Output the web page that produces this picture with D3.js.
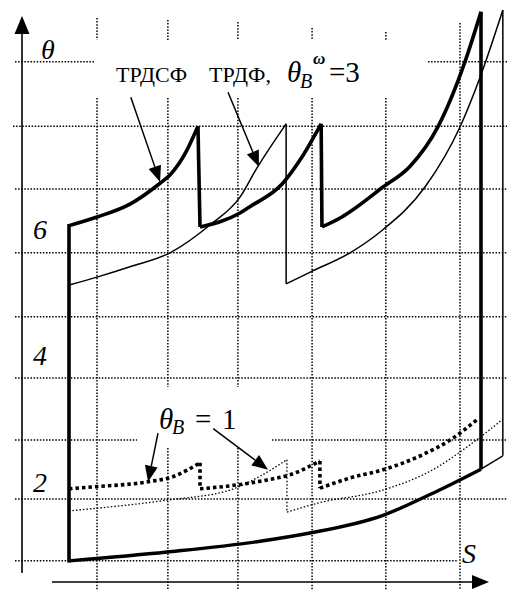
<!DOCTYPE html>
<html><head><meta charset="utf-8">
<script src="https://cdn.jsdelivr.net/npm/d3@7"></script>
<style>html,body{margin:0;padding:0;background:#fff;}svg{display:block;}</style>
</head><body>
<svg id="c" width="513" height="590" font-family="Liberation Serif, serif"></svg>
<script>
// ---------- DATA (S, theta) ----------
// theta_B^w = 3, ТРДСФ (thick solid), upper boundary
const trdsfTopS  = [0, 0.70, 1.48, 2.21, 2.45, 2.86, 3.13, 3.18, 4.15, 4.39, 5.19, 5.61, 6.12, 6.14, 6.58, 6.82, 7.62, 8.28, 8.96, 9.61, 10.0];
const trdsfTopT  = [6.05, 6.19, 6.39, 6.72, 6.85, 7.24, 7.62, 6.03, 6.25, 6.35, 6.72, 7.09, 7.66, 6.03, 6.17, 6.27, 6.66, 6.99, 7.62, 8.64, 9.43];
// common lower boundary (thick solid)
const bottomS    = [0, 2.38, 4.64, 5.85, 7.62, 8.83, 10.0];
const bottomT    = [0.75, 0.89, 1.06, 1.19, 1.47, 1.82, 2.20];
// theta_B^w = 3, ТРДФ (thin solid)
const trdfTopS   = [0, 0.70, 1.48, 2.45, 3.42, 4.15, 4.56, 5.27, 5.27, 5.87, 6.82, 7.55, 8.64, 9.49, 9.98, 10.53, 10.53, 10.0];
const trdfTopT   = [5.11, 5.24, 5.40, 5.62, 6.06, 6.50, 6.96, 7.66, 5.13, 5.32, 5.62, 5.95, 6.66, 7.61, 8.40, 9.46, 2.41, 2.20];
// theta_B = 1, ТРДСФ (thick dotted)
const trdsfB1S   = [0, 0.58, 1.92, 2.52, 3.18, 3.18, 3.83, 4.81, 5.36, 6.09, 6.09, 6.82, 7.62, 8.59, 9.25, 9.90];
const trdsfB1T   = [1.89, 1.92, 2.00, 2.08, 2.30, 1.89, 1.93, 2.03, 2.11, 2.33, 1.90, 2.06, 2.19, 2.43, 2.66, 2.98];
// theta_B = 1, ТРДФ (thin dotted)
const trdfB1S    = [0, 2.38, 3.91, 4.64, 5.29, 5.29, 6.02, 7.62, 8.83, 9.66, 10.53];
const trdfB1T    = [1.54, 1.71, 1.87, 2.09, 2.35, 1.52, 1.66, 1.87, 2.19, 2.55, 2.99];

// grid positions
const gridS = [0.68, 2.40, 4.10, 5.90, 7.69, 9.49];
const gridT = [8.64, 7.62, 6.63, 5.62, 4.61, 3.64, 2.66, 1.73, 0.75];
// tick labels
const tickVals   = [2, 4, 6];
const tickLabels = ["2", "4", "6"];
// annotation arrows [fromS, fromT, toS, toT]
const arrowFromS = [1.50, 3.86, 2.16, 3.50];
const arrowFromT = [8.08, 8.16, 2.77, 2.84];
const arrowToS   = [2.21, 4.61, 1.92, 4.83];
const arrowToT   = [6.74, 6.98, 2.00, 2.19];

// ---------- LAYOUT ----------
const FONT = "Liberation Serif, serif";
const svg = d3.select("#c");
const x = d3.scaleLinear().domain([0, 10]).range([69, 481]);
const y = d3.scaleLinear().domain([0, 8]).range([608.3, 102.3]);

// grid spans in pixels (gaps around labels)
const vSpans = [[[18,40],[98,590]], [[20,40],[98,387],[448,590]], [[22,40],[98,387],[448,590]],
                [[28,40],[98,590]], [[32,40],[98,590]], [[23,590]]];
const hSpans = [[[15,95],[428,507]], [[13,507]], [[15,507]], [[15,507]], [[15,507]], [[15,507]],
                [[15,137],[272,507]], [[15,507]], [[15,458]]];
const gridG = svg.append("g").attr("stroke","#000").attr("stroke-width",1.5).attr("stroke-dasharray","1.5,1.6").attr("fill","none");
gridS.forEach((s,i)=>vSpans[i].forEach(sp=>gridG.append("line").attr("x1",x(s)).attr("x2",x(s)).attr("y1",sp[0]).attr("y2",sp[1])));
gridT.forEach((t,i)=>hSpans[i].forEach(sp=>gridG.append("line").attr("y1",y(t)).attr("y2",y(t)).attr("x1",sp[0]).attr("x2",sp[1])));

// axes
const ax = svg.append("g");
ax.append("line").attr("x1",22).attr("x2",22).attr("y1",573).attr("y2",30).attr("stroke","#000").attr("stroke-width",1.6);
ax.append("path").attr("d","M22,16 L14.5,34 L29.5,34 Z").attr("fill","#000");
ax.append("line").attr("x1",52).attr("x2",475).attr("y1",582).attr("y2",582).attr("stroke","#000").attr("stroke-width",1.6);
ax.append("path").attr("d","M489,582 L472,575 L472,589 Z").attr("fill","#000");

// series drawing: rising parts smooth, drops straight
function drawSeries(Ss, Ts, style){
  const pts = Ss.map((s,i)=>[s,Ts[i]]);
  const smooth = [], straight = [];
  let cur = [pts[0]];
  for(let i=1;i<pts.length;i++){
    const p = pts[i], q = pts[i-1];
    if (p[0] <= q[0] || p[1] < q[1]) { if(cur.length>1) smooth.push(cur); straight.push([q,p]); cur=[p]; }
    else cur.push(p);
  }
  if(cur.length>1) smooth.push(cur);
  const ls = d3.line().x(d=>x(d[0])).y(d=>y(d[1])).curve(d3.curveMonotoneX);
  const ll = d3.line().x(d=>x(d[0])).y(d=>y(d[1]));
  const g = svg.append("g").attr("fill","none").attr("stroke","#000").attr("stroke-width",style.w)
     .attr("stroke-linejoin","miter").attr("stroke-linecap","butt");
  if(style.dash) g.attr("stroke-dasharray",style.dash);
  smooth.forEach(seg=>g.append("path").attr("d",ls(seg)));
  straight.forEach(seg=>g.append("path").attr("d",ll(seg)));
}
drawSeries(trdfTopS, trdfTopT, {w:1.5});
drawSeries(trdfB1S, trdfB1T, {w:1.3, dash:"1.5,2"});
drawSeries(trdsfB1S, trdsfB1T, {w:3.6, dash:"3.5,3"});
drawSeries(bottomS, bottomT, {w:3.4});
drawSeries(trdsfTopS, trdsfTopT, {w:3.6});
// left edge of the thick contour and right drop
svg.append("line").attr("x1",x(0)).attr("x2",x(0)).attr("y1",y(bottomT[0])+1.7).attr("y2",y(trdsfTopT[0])-1.7).attr("stroke","#000").attr("stroke-width",3.6);
svg.append("line").attr("x1",x(10)).attr("x2",x(10)).attr("y1",y(bottomT[bottomT.length-1])).attr("y2",y(trdsfTopT[trdsfTopT.length-1])).attr("stroke","#000").attr("stroke-width",3.6);

// arrows
arrowFromS.forEach((s,i)=>{
  const x1=x(s), y1=y(arrowFromT[i]), x2=x(arrowToS[i]), y2=y(arrowToT[i]);
  const a=Math.atan2(y2-y1,x2-x1), L=16, W=6.5;
  const bx=x2-L*Math.cos(a), by=y2-L*Math.sin(a);
  svg.append("line").attr("x1",x1).attr("y1",y1).attr("x2",bx).attr("y2",by).attr("stroke","#000").attr("stroke-width",1.5);
  svg.append("path").attr("fill","#000").attr("d",
    `M${x2},${y2} L${bx+W*Math.sin(a)},${by-W*Math.cos(a)} L${bx-W*Math.sin(a)},${by+W*Math.cos(a)} Z`);
});

function txt(sel){ return sel.append("text").attr("font-family",FONT); }
// tick labels
tickVals.forEach((v,i)=>txt(svg).attr("x",33).attr("y",y(v)).attr("dy","0.35em")
  .attr("font-style","italic").attr("font-size",28).text(tickLabels[i]));
// axis titles
txt(svg).attr("x",41).attr("y",59).attr("font-style","italic").attr("font-size",28).text("θ");
txt(svg).attr("x",462).attr("y",563).attr("font-style","italic").attr("font-size",28).text("S");

// top label
const t1 = txt(svg).attr("font-size",22).attr("y",82);
t1.append("tspan").attr("x",116).text("ТРДСФ");
t1.append("tspan").attr("x",209).text("ТРДФ,");
const t2 = txt(svg);
t2.append("tspan").attr("x",287).attr("y",82).attr("font-size",29).attr("font-style","italic").text("θ");
t2.append("tspan").attr("x",300).attr("y",88).attr("font-size",20).attr("font-style","italic").text("B");
t2.append("tspan").attr("x",313).attr("y",64).attr("font-size",17).attr("font-style","italic").attr("font-weight","bold").text("ω");
t2.append("tspan").attr("x",329).attr("y",82).attr("font-size",29).text("=3");

// theta_B = 1 label
const t3 = txt(svg);
t3.append("tspan").attr("x",159).attr("y",429).attr("font-size",29).attr("font-style","italic").text("θ");
t3.append("tspan").attr("x",172).attr("y",434).attr("font-size",20).attr("font-style","italic").text("B");
t3.append("tspan").attr("x",195).attr("y",429).attr("font-size",29).text("=");
t3.append("tspan").attr("x",222).attr("y",429).attr("font-size",29).text("1");
</script>
</body></html>
